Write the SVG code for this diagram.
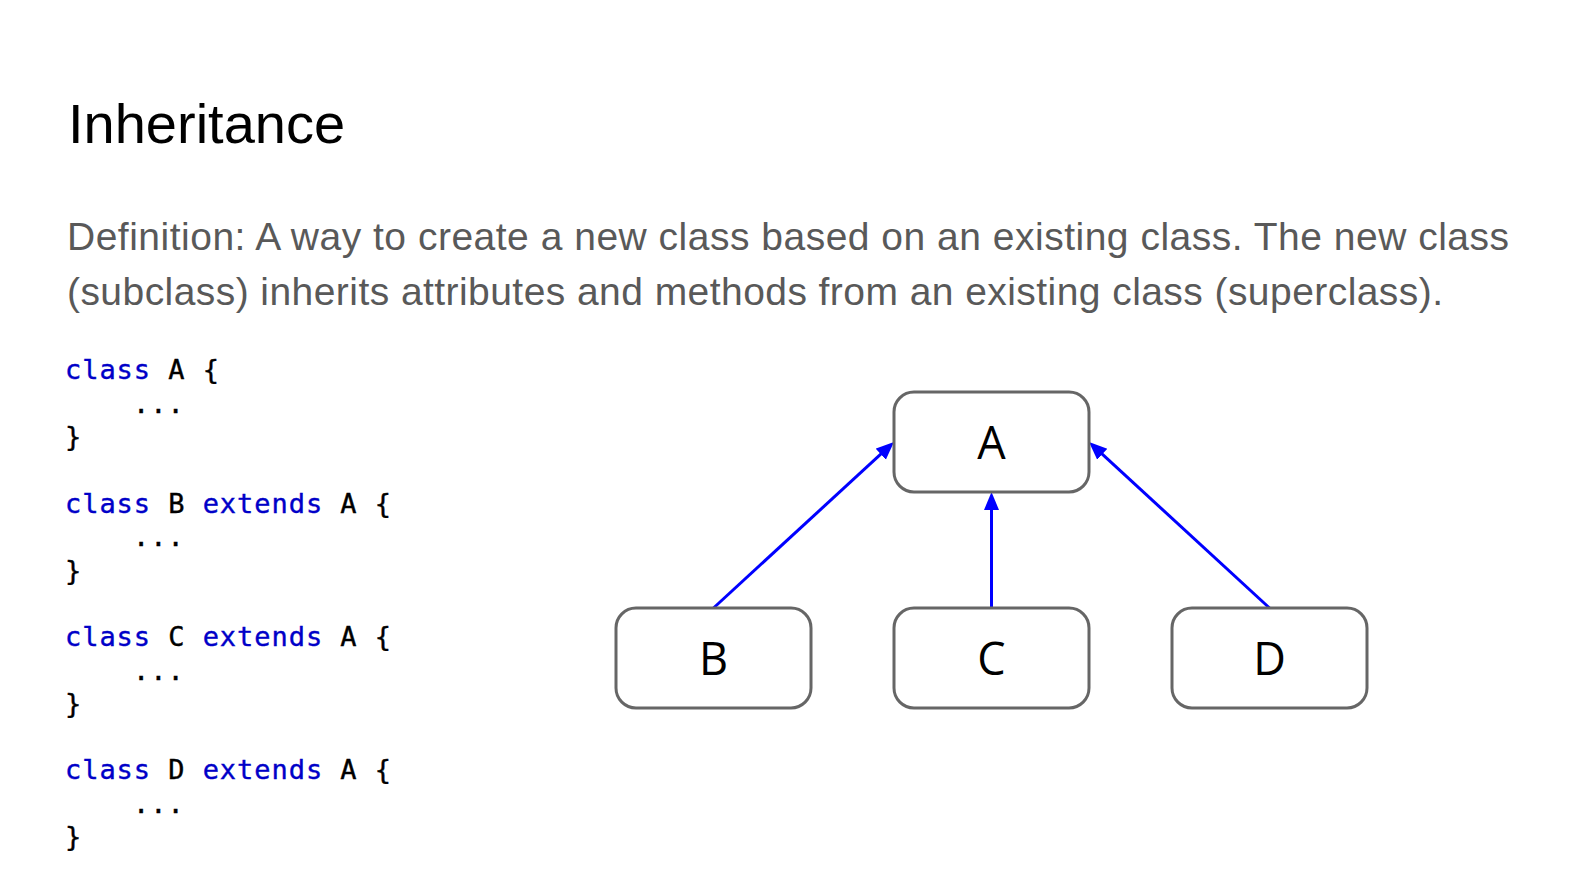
<svg xmlns="http://www.w3.org/2000/svg" width="1590" height="886" viewBox="0 0 1590 886">
<style>
.title{font-family:"Liberation Sans",Arial,sans-serif;font-size:56px;fill:#000}
.def{font-family:"Liberation Sans",Arial,sans-serif;font-size:39px;fill:#595959}
.code{font-family:"DejaVu Sans Mono",monospace;font-size:27px;letter-spacing:0.95px;fill:#000;stroke:#000;stroke-width:0.4}
.kw{fill:#0000c8;stroke:#0000c8}
.box{fill:#fff;stroke:#666;stroke-width:3}
.lbl{font-family:"Open Sans","DejaVu Sans",sans-serif;font-size:45px;fill:#000;text-anchor:middle}
.edge{stroke:#0000ff;stroke-width:3;fill:none;marker-end:url(#arr)}
</style>
<defs>
<marker id="arr" markerUnits="userSpaceOnUse" markerWidth="20" markerHeight="16" refX="10" refY="7.5" orient="auto">
<path d="M0,0 L18,7.5 L0,15 Z" fill="#0000ff"/>
</marker>
</defs>
<rect width="1590" height="886" fill="#fff"/>
<text class="title" x="68" y="143">Inheritance</text>
<text class="def" x="67" y="250" textLength="1442" lengthAdjust="spacing">Definition: A way to create a new class based on an existing class. The new class</text>
<text class="def" x="67" y="305" textLength="1376" lengthAdjust="spacing">(subclass) inherits attributes and methods from an existing class (superclass).</text>
<g id="code">
<text class="code" x="65" y="379"><tspan class="kw">class</tspan> A {</text>
<text class="code" x="133" y="412.5">...</text>
<text class="code" x="65" y="446">}</text>
<text class="code" x="65" y="513"><tspan class="kw">class</tspan> B <tspan class="kw">extends</tspan> A {</text>
<text class="code" x="133" y="546">...</text>
<text class="code" x="65" y="579.5">}</text>
<text class="code" x="65" y="646"><tspan class="kw">class</tspan> C <tspan class="kw">extends</tspan> A {</text>
<text class="code" x="133" y="679.5">...</text>
<text class="code" x="65" y="713">}</text>
<text class="code" x="65" y="779"><tspan class="kw">class</tspan> D <tspan class="kw">extends</tspan> A {</text>
<text class="code" x="133" y="812.5">...</text>
<text class="code" x="65" y="846">}</text>
</g>
<g id="connectors">
<path class="edge" d="M713.5,608 L888.1,447.4"/>
<path class="edge" d="M991.5,608 L991.5,500"/>
<path class="edge" d="M1269.5,608 L1094.9,447.4"/>
</g>
<g id="nodeA"><rect class="box" x="894" y="392" width="195" height="100" rx="20"/><text class="lbl" x="991.5" y="459">A</text></g>
<g id="nodeB"><rect class="box" x="616" y="608" width="195" height="100" rx="20"/><text class="lbl" x="713.5" y="675">B</text></g>
<g id="nodeC"><rect class="box" x="894" y="608" width="195" height="100" rx="20"/><text class="lbl" x="991.5" y="675">C</text></g>
<g id="nodeD"><rect class="box" x="1172" y="608" width="195" height="100" rx="20"/><text class="lbl" x="1269.5" y="675">D</text></g>
</svg>
